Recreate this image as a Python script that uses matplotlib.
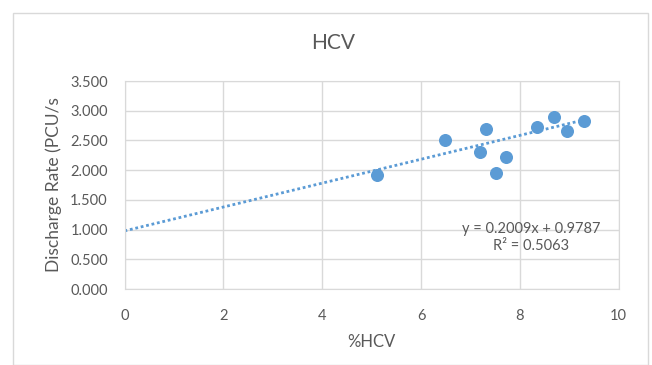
import matplotlib
matplotlib.use("Agg")
import matplotlib.pyplot as plt
import numpy as np
from matplotlib.patches import Rectangle
from matplotlib.ticker import FormatStrFormatter

# Dane
hcv_pct = [5.10, 6.48, 7.31, 7.19, 7.52, 7.72, 8.34, 8.69, 8.96, 9.29]
discharge = [1.92, 2.51, 2.70, 2.30, 1.95, 2.23, 2.72, 2.90, 2.66, 2.83]
slope, intercept, r2 = 0.2009, 0.9787, 0.5063

plt.rcParams['font.family'] = ['Lato', 'DejaVu Sans']
grey = '#595959'
blue = '#5b9bd5'

fig = plt.figure(figsize=(6.52, 3.65), dpi=100)
ax = fig.add_axes([0.191, 0.208, 0.758, 0.570])

# ramka wykresu
fig.patches.append(Rectangle((13 / 652, 0), 635 / 652, 352 / 365, transform=fig.transFigure,
                             fill=False, edgecolor='#d9d9d9', linewidth=1))

# linia trendu
xt = np.array([0, max(hcv_pct)])
ax.plot(xt, slope * xt + intercept, linestyle=(0, (1, 1)), color=blue, linewidth=2, zorder=2)
ax.scatter(hcv_pct, discharge, s=70, color=blue, zorder=3)

ax.set_xlim(0, 10)
ax.set_ylim(0, 3.5)
ax.set_xticks(range(0, 11, 2))
ax.set_yticks(np.arange(0, 3.51, 0.5))
ax.yaxis.set_major_formatter(FormatStrFormatter('%.3f'))
ax.grid(True, color='#d9d9d9', linewidth=1)
ax.set_axisbelow(True)
for s in ax.spines.values():
    s.set_color('#d9d9d9')
ax.tick_params(length=0, colors=grey, labelsize=10.5)
ax.tick_params(axis='x', pad=14)
ax.tick_params(axis='y', pad=12)

ax.set_xlabel('%HCV', color=grey, fontsize=12, labelpad=8)
ax.set_ylabel('Discharge Rate (PCU/s', color=grey, fontsize=12.5, labelpad=6)
fig.text(333 / 652, 1 - 43 / 365, 'HCV', ha='center', va='center', color=grey, fontsize=15)

ax.text(8.22, 0.87, 'y = %.4fx + %.4f\nR² = %.4f' % (slope, intercept, r2), ha='center', va='center',
        color=grey, fontsize=10.5, linespacing=1.3)

fig.savefig('out.png', dpi=100)
